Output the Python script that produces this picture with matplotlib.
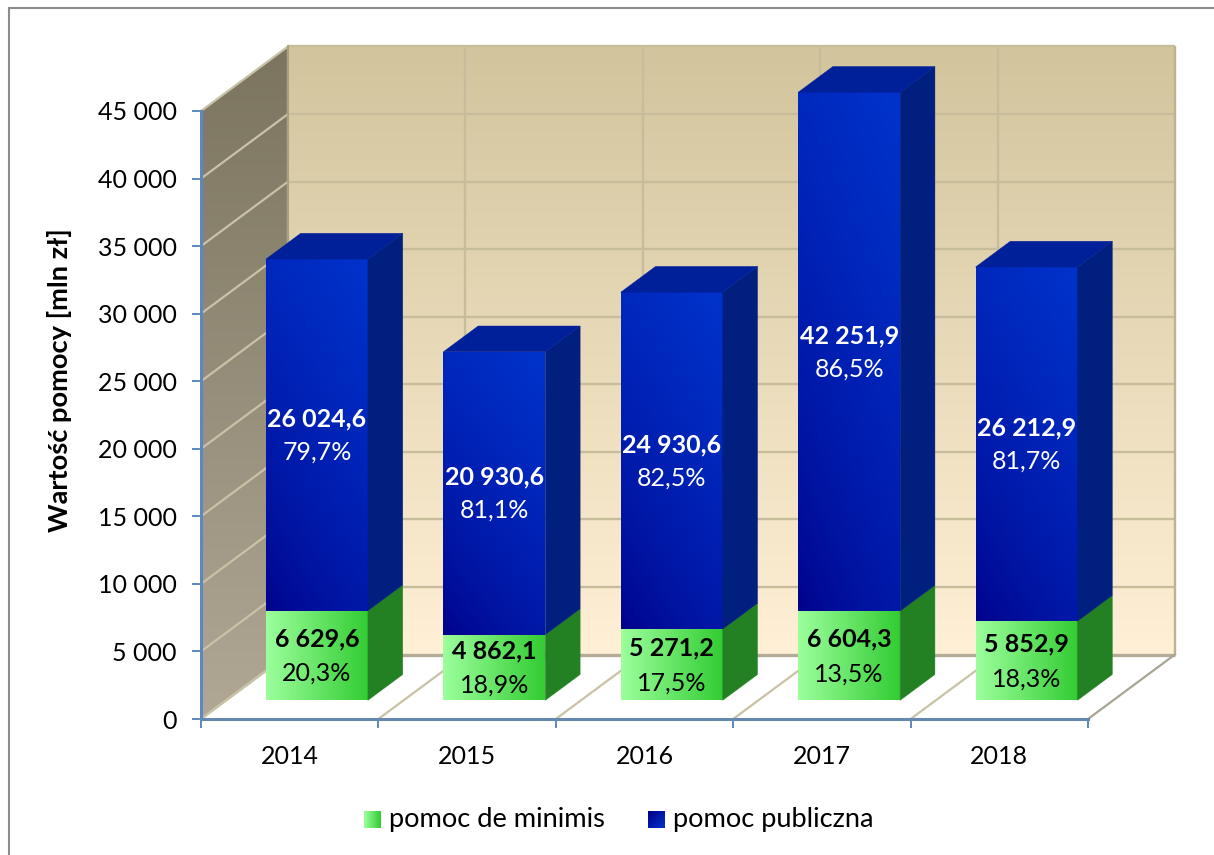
import numpy as np
import matplotlib
matplotlib.use("Agg")
import matplotlib.pyplot as plt
from matplotlib.colors import to_rgb
from matplotlib.lines import Line2D
from matplotlib.patches import Polygon

plt.rcParams['font.family'] = ['Lato', 'DejaVu Sans']

years = ['2014', '2015', '2016', '2017', '2018']
minimis = [6629.6, 4862.1, 5271.2, 6604.3, 5852.9]
publiczna = [26024.6, 20930.6, 24930.6, 42251.9, 26212.9]
minimis_pct = [20.3, 18.9, 17.5, 13.5, 18.3]
publiczna_pct = [79.7, 81.1, 82.5, 86.5, 81.7]
y_ticks = [0, 5000, 10000, 15000, 20000, 25000, 30000, 35000, 40000, 45000]
legend_labels = ['pomoc de minimis', 'pomoc publiczna']
y_title = 'Wartość pomocy [mln zł]'

W, H = 1214, 855
fig = plt.figure(figsize=(W / 100, H / 100), dpi=100, facecolor='white')
L, R, T, B = 201, 1088, 111, 719
ax = fig.add_axes([L / W, 1 - B / H, (R - L) / W, (B - T) / H])
ax.set_facecolor('none')
YMAX = 45000
PX_X = (R - L) / 5
PX_Y = (B - T) / YMAX
DX = 87 / PX_X      # full floor depth in category units
DY = 64.5 / PX_Y    # full floor depth in value units
BAR_W = 102 / PX_X
BAR_SHIFT = 2 / PX_X
D0, D1 = 0.29, 0.69  # bar depth range as a fraction of the floor depth


def pt(x, y, d=0.0):
    return (x + DX * d, y + DY * d)


def grad_img(stops, angle, gamma=1.0, n=128):
    gy, gx = np.mgrid[0:1:n * 1j, 0:1:n * 1j]
    a = np.deg2rad(angle)
    t = gx * np.cos(a) + gy * np.sin(a)
    t = ((t - t.min()) / (t.max() - t.min())) ** gamma
    c0, c1 = np.array(to_rgb(stops[0])), np.array(to_rgb(stops[1]))
    return c0 + (c1 - c0) * t[..., None]


def grad_poly(poly, stops, angle=90, z=1, gamma=1.0):
    """Fill polygon with a linear gradient; angle 90 = bottom to top, 0 = left to right."""
    poly = np.array(poly)
    ext = [poly[:, 0].min(), poly[:, 0].max(), poly[:, 1].min(), poly[:, 1].max()]
    im = ax.imshow(grad_img(stops, angle, gamma), extent=ext, origin='lower', aspect='auto', zorder=z, interpolation='bilinear')
    clip = Polygon(poly, closed=True, transform=ax.transData, fc='none', ec='none')
    im.set_clip_box(fig.bbox)
    im.set_clip_path(clip)


x0, x1 = -0.5, 4.5
# walls and floor
ax.add_patch(Polygon([pt(x0, 0), pt(x1, 0), pt(x1, 0, 1), pt(x0, 0, 1)], fc='white', ec='none', zorder=0.5, clip_on=False))
grad_poly([pt(x0, 0, 1), pt(x1, 0, 1), pt(x1, YMAX, 1), pt(x0, YMAX, 1)], ('#fff0d6', '#d2c49c'), 90, 1)
grad_poly([pt(x0, 0), pt(x0, 0, 1), pt(x0, YMAX, 1), pt(x0, YMAX)], ('#b0a895', '#7b745e'), 90, 1)

GRID = '#c8bd9b'
for v in y_ticks:
    c = '#b5ac97' if v == 0 else GRID
    lw = 2.4 if v == 0 else 1.7
    xa, ya = pt(x0, v, 1)
    xb, yb = pt(x1, v, 1)
    ax.plot([xa, xb], [ya, yb], color=c, lw=lw, zorder=2, clip_on=False, solid_capstyle='butt')
    xc, yc = pt(x0, v)
    ax.plot([xc, xa], [yc, ya], color='#c9c2a6', lw=1.6, zorder=2, clip_on=False)
for i in range(6):
    xv = x0 + i
    xa, ya = pt(xv, 0, 1)
    xb, yb = pt(xv, YMAX, 1)
    ax.plot([xa, xb], [ya, yb], color='#bdb291' if i == 5 else GRID, lw=1.7, zorder=2, clip_on=False, solid_capstyle='butt')
    xc, yc = pt(xv, 0)
    ax.plot([xc, xa], [yc, ya], color='#a9a594' if i == 5 else '#c9c2a6', lw=1.6, zorder=2, clip_on=False)
ax.plot([pt(x0, 0, 1)[0], pt(x0, YMAX, 1)[0]], [0 + DY, YMAX + DY], color='#a8a080', lw=1.4, zorder=2, clip_on=False)


def box(xc, y0, y1, front, side, top, z, angle, gamma=1.0):
    xl, xr = xc - BAR_W / 2, xc + BAR_W / 2
    grad_poly([pt(xl, y0, D0), pt(xr, y0, D0), pt(xr, y1, D0), pt(xl, y1, D0)], front, angle, z, gamma)
    ax.add_patch(Polygon([pt(xr, y0, D0), pt(xr, y0, D1), pt(xr, y1, D1), pt(xr, y1, D0)], fc=side, ec=side, lw=0.3, zorder=z, clip_on=False))
    if top:
        ax.add_patch(Polygon([pt(xl, y1, D0), pt(xr, y1, D0), pt(xr, y1, D1), pt(xl, y1, D1)], fc=top, ec=top, lw=0.3, zorder=z, clip_on=False))


GREEN = ('#9cff9c', '#33cc33')
BLUE = ('#000088', '#0033cc')
LAB = 18
fmt = lambda v: f'{v:,.1f}'.replace(',', ' ').replace('.', ',')
pct = lambda v: f'{v:.1f}%'.replace('.', ',')
for i in range(len(years)):
    z = 3 + i * 0.1
    g = minimis[i]
    tot = min(g + publiczna[i], YMAX)   # the value axis cuts the bar at its maximum
    xc = i + BAR_SHIFT
    box(xc, 0, g, GREEN, '#238023', None, z, 0)
    box(xc, g, tot, BLUE, '#001f7f', '#00209a', z, 65, 0.65)
    cx, cy = pt(xc, g / 2, D0)
    ax.annotate(fmt(g), (cx, cy), xytext=(0, 17), textcoords='offset pixels', ha='center', va='center', fontsize=LAB, fontweight='bold', color='black', zorder=6, annotation_clip=False)
    ax.annotate(pct(minimis_pct[i]), (cx, cy), xytext=(0, -18), textcoords='offset pixels', ha='center', va='center', fontsize=LAB, color='black', zorder=6, annotation_clip=False)
    cx, cy = pt(xc, (g + tot) / 2, D0)
    ax.annotate(fmt(publiczna[i]), (cx, cy), xytext=(0, 16), textcoords='offset pixels', ha='center', va='center', fontsize=LAB, fontweight='bold', color='white', zorder=6, annotation_clip=False)
    ax.annotate(pct(publiczna_pct[i]), (cx, cy), xytext=(0, -17), textcoords='offset pixels', ha='center', va='center', fontsize=LAB, color='white', zorder=6, annotation_clip=False)

ax.set_xlim(x0, x1)
ax.set_ylim(0, YMAX)
AX = '#5c88bf'
for s in ['top', 'right']:
    ax.spines[s].set_visible(False)
ax.spines['left'].set_color(AX)
ax.spines['left'].set_linewidth(2.2)
ax.spines['bottom'].set_color('#6688b0')
ax.spines['bottom'].set_linewidth(2.2)
ax.spines['left'].set_zorder(7)
ax.spines['bottom'].set_zorder(7)
ax.set_yticks(y_ticks)
ax.set_yticklabels([f'{v:,}'.replace(',', ' ') for v in y_ticks], fontsize=18, color='black')
ax.tick_params(axis='y', length=6.5, width=1.4, color=AX, pad=11)
ax.set_xticks(np.arange(-0.5, 5, 1))
ax.set_xticklabels([])
ax.tick_params(axis='x', which='major', length=6.5, width=1.4, color=AX)
ax.set_xticks(np.arange(5), minor=True)
ax.set_xticklabels(years, minor=True, fontsize=18, color='black')
ax.tick_params(axis='x', which='minor', length=0, pad=19)

fig.text(60 / W, 1 - 380 / H, y_title, rotation=90, ha='center', va='center', fontsize=19.6, fontweight='bold', color='black')

# frame of the chart area: top and left edges only, the others fall outside the picture
frame = dict(color='#8c8c8c', lw=1.5, transform=fig.transFigure)
fig.add_artist(Line2D([9 / W, 1], [1 - 8 / H, 1 - 8 / H], **frame))
fig.add_artist(Line2D([9 / W, 9 / W], [0, 1 - 8 / H], **frame))

# legend
lg = fig.add_axes([0, 0, 1, 1], facecolor='none')
lg.set_axis_off()
for xs, lab, st, ang in [(364, legend_labels[0], GREEN, 0), (648, legend_labels[1], BLUE, 45)]:
    lg.imshow(grad_img(st, ang, n=32), extent=[xs, xs + 17, 828, 811], origin='upper' if ang else 'lower', aspect='auto')
    lg.text(xs + 25, 819, lab, fontsize=19.6, va='center', ha='left', color='black')
lg.set_xlim(0, W)
lg.set_ylim(H, 0)

fig.savefig('out.png', dpi=100)
